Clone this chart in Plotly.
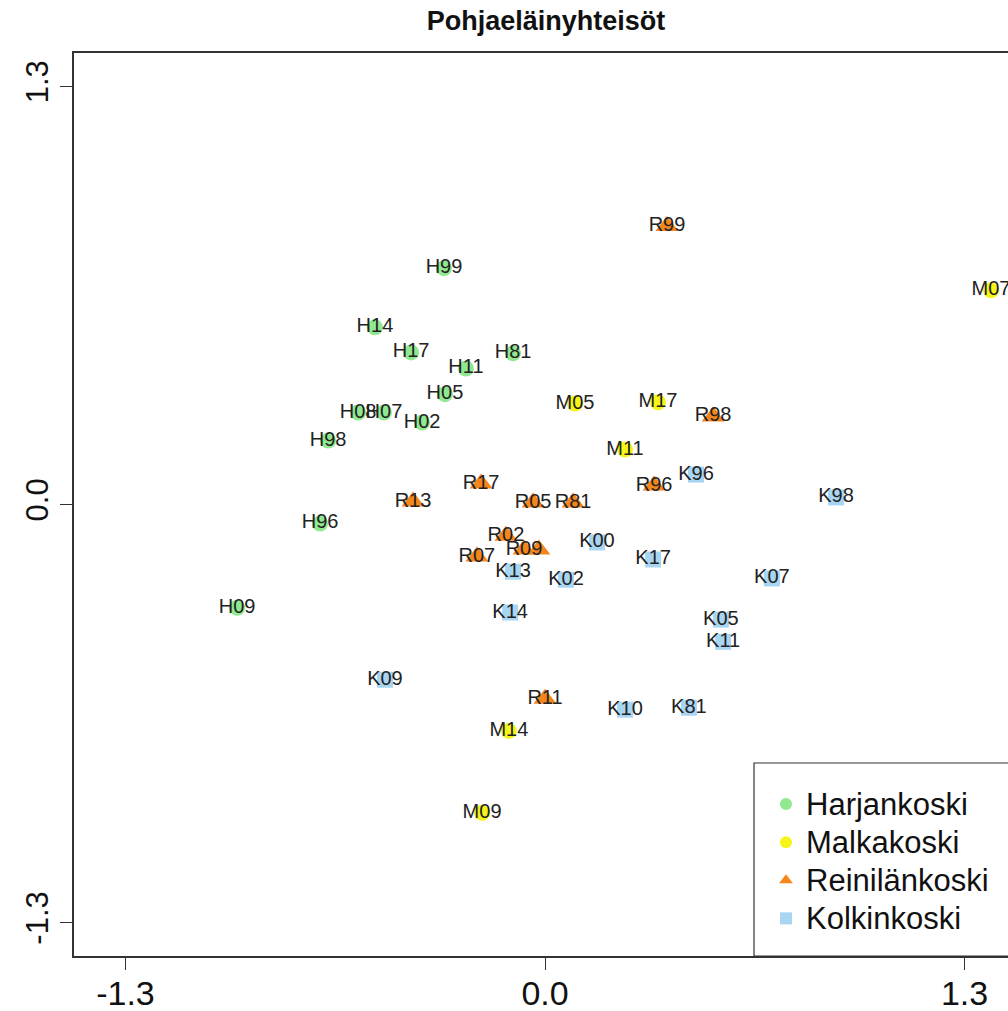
import plotly.graph_objects as go

# ---- data ----
h_labels = ["H99", "H14", "H17", "H81", "H11", "H05", "H08", "H07", "H02", "H98", "H96", "H09"]
h_x = [-0.313, -0.527, -0.415, -0.099, -0.245, -0.310, -0.579, -0.499, -0.381, -0.672, -0.697, -0.954]
h_y = [0.735, 0.551, 0.473, 0.470, 0.423, 0.343, 0.286, 0.286, 0.255, 0.199, -0.059, -0.321]

m_labels = ["M07", "M05", "M17", "M11", "M14", "M09"]
m_x = [1.382, 0.093, 0.350, 0.248, -0.112, -0.195]
m_y = [0.666, 0.314, 0.318, 0.171, -0.704, -0.959]

r_labels = ["R99", "R98", "R96", "R17", "R05", "R81", "R13", "R02", "R07", "R09", "", "R11"]
r_x = [0.378, 0.521, 0.338, -0.198, -0.037, 0.087, -0.409, -0.121, -0.211, -0.065, -0.019, 0.000]
r_y = [0.866, 0.274, 0.059, 0.065, 0.006, 0.006, 0.009, -0.097, -0.162, -0.140, -0.140, -0.604]

k_labels = ["K96", "K98", "K00", "K17", "K07", "K05", "K11", "K10", "K81", "K13", "K02", "K14", "K09"]
k_x = [0.468, 0.902, 0.161, 0.335, 0.703, 0.545, 0.552, 0.248, 0.446, -0.099, 0.065, -0.108, -0.496]
k_y = [0.093, 0.022, -0.118, -0.171, -0.230, -0.358, -0.427, -0.638, -0.632, -0.209, -0.234, -0.336, -0.545]

group_names = ["Harjankoski", "Malkakoski", "Reinilänkoski", "Kolkinkoski"]
tick_vals = [-1.3, 0.0, 1.3]
tick_text = ["-1.3", "0.0", "1.3"]
title_text = "Pohjaeläinyhteisöt"

# ---- styling ----
FONT = "Liberation Sans, Arial, Helvetica, sans-serif"
groups = [
    (h_x, h_y, h_labels, "circle", "#90E890", 16),
    (m_x, m_y, m_labels, "circle", "#F5F51A", 16),
    (r_x, r_y, r_labels, "triangle-up", "#F5861C", 20),
    (k_x, k_y, k_labels, "square", "#A8D6F2", 16),
]

fig = go.Figure()
for (gx, gy, gl, sym, col, sz), name in zip(groups, group_names):
    fig.add_trace(go.Scatter(
        x=gx, y=gy, mode="markers",
        name="<span style='font-size:31px'>" + name + "</span>",
        marker=dict(symbol=sym, color=col, size=sz, line=dict(width=0)),
    ))
for (gx, gy, gl, sym, col, sz), name in zip(groups, group_names):
    fig.add_trace(go.Scatter(
        x=gx, y=gy, mode="text", text=gl, showlegend=False,
        textposition="middle center",
        textfont=dict(family=FONT, size=20, color="#222222"),
        hoverinfo="skip",
    ))

W, H = 1008, 1011
L, R, T, B = 74, 0, 53, 55
pw, ph = W - L - R, H - T - B

fig.update_layout(
    width=W, height=H,
    margin=dict(l=L, r=R, t=T, b=B, pad=0, autoexpand=False),
    paper_bgcolor="white", plot_bgcolor="white",
    title=dict(text="<b>" + title_text + "</b>", x=(546 - L) / pw, xref="paper",
               xanchor="center", y=1 - 21 / H, yref="container", yanchor="middle",
               automargin=False,
               font=dict(family=FONT, size=27, color="#111111")),
    showlegend=True,
    legend=dict(x=(766 - L) / pw, xanchor="left", y=(956 - 943) / ph, yanchor="bottom",
                bgcolor="rgba(0,0,0,0)", borderwidth=0,
                font=dict(family=FONT, size=27, color="#111111"),
                itemsizing="constant", tracegroupgap=0),
)
fig.update_xaxes(
    range=[-(545 - L) / 322.7, (W - 545) / 322.7],
    tickvals=tick_vals, ticktext=tick_text, automargin=False,
    ticks="outside", ticklen=12, tickcolor="#333333", tickwidth=1.2,
    showline=True, linecolor="#333333", linewidth=1.5, mirror=True,
    showgrid=False, zeroline=False, ticklabelstandoff=-6,
    tickfont=dict(family=FONT, size=34, color="#111111"),
)
fig.update_yaxes(
    range=[-1.404, 1.404],
    tickvals=tick_vals, ticktext=tick_text, tickangle=-90, automargin=False,
    ticks="outside", ticklen=12, tickcolor="#333333", tickwidth=1.2,
    showline=True, linecolor="#333333", linewidth=1.5, mirror=False,
    showgrid=False, zeroline=False,
    tickfont=dict(family=FONT, size=31, color="#111111"),
)
fig.add_shape(type="rect", xref="paper", yref="paper",
              x0=(754 - L) / pw, x1=1.05, y0=0, y1=(956 - 763) / ph,
              line=dict(color="#333333", width=1.2), fillcolor="rgba(0,0,0,0)")

fig.write_html("out.html")
